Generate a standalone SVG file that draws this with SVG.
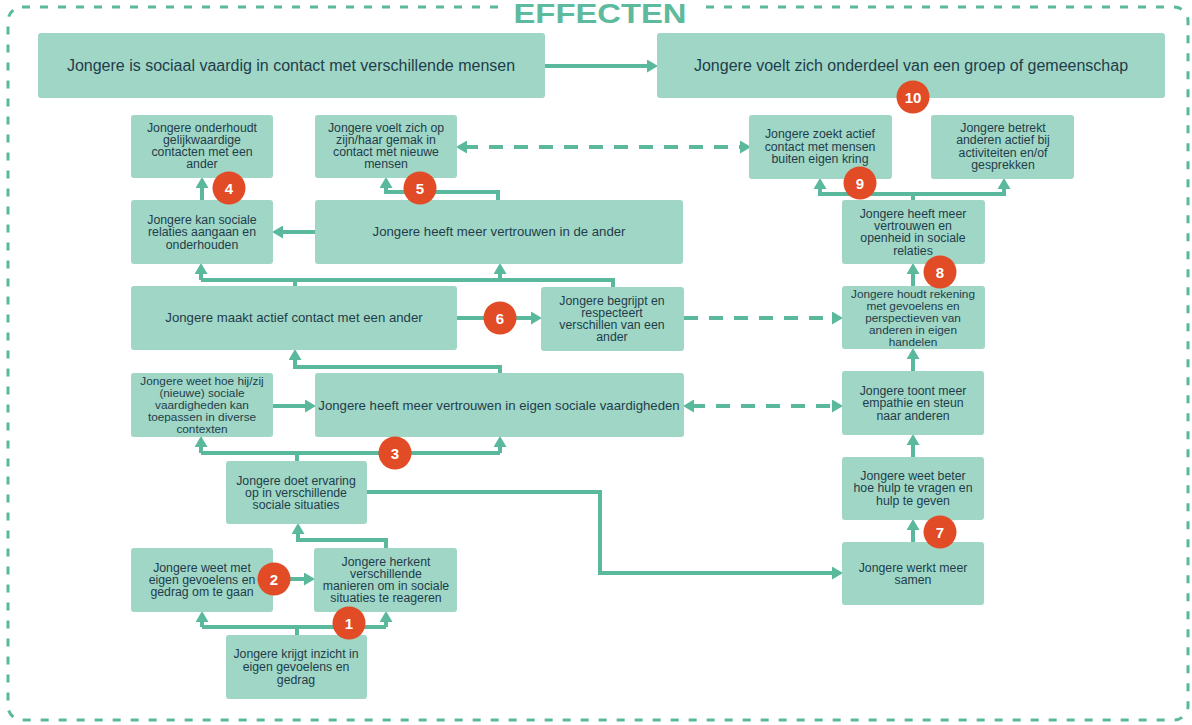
<svg xmlns="http://www.w3.org/2000/svg" width="1192" height="725" viewBox="0 0 1192 725">
<style>
.box{fill:#9fd6c6;}
.t{font-family:"Liberation Sans",Arial,sans-serif;fill:#1f3d4a;text-anchor:middle;}
.s{font-size:12.3px;}
.x{font-size:11.8px;}
.m{font-size:13.2px;}
.l{font-size:16px;}
.c{fill:none;stroke:#5ab89d;stroke-width:4;stroke-linejoin:miter;}
.d{stroke-dasharray:14 11;}
.a{marker-end:url(#ah);}
.b{marker-start:url(#ah);}
.bd circle{fill:#e14b26;}
.bd text{font-family:"Liberation Sans",Arial,sans-serif;font-weight:bold;font-size:15px;fill:#ffffff;text-anchor:middle;}
</style>
<defs>
<marker id="ah" viewBox="0 0 11 13" markerWidth="11" markerHeight="13" markerUnits="userSpaceOnUse" refX="3" refY="6.5" orient="auto-start-reverse"><path d="M0,0 L11,6.5 L0,13 z" fill="#5ab89d"/></marker>
</defs>
<rect width="1192" height="725" fill="#ffffff"/>
<rect x="8" y="7" width="1180" height="713" rx="14" fill="none" stroke="#5ab89d" stroke-width="3" stroke-dasharray="8 10"/>
<rect x="503" y="0" width="196" height="17" fill="#ffffff"/>
<text x="600" y="23" font-family="'Liberation Sans',Arial,sans-serif" font-weight="bold" font-size="28" fill="#5dba9c" text-anchor="middle" textLength="173" lengthAdjust="spacingAndGlyphs">EFFECTEN</text>

<g id="connectors">
<path class="c a" d="M545,66 H650"/>
<path class="c a" d="M315,232 H280"/>
<path class="c a" d="M202,200 V185"/>
<path class="c a" d="M498,200 V192 H386 V185"/>
<path class="c d a b" d="M464,147 H743"/>
<path class="c" d="M913,200 V194"/>
<path class="c a" d="M913,194 H820 V186"/>
<path class="c a" d="M913,194 H1004 V186"/>
<path class="c" d="M201,280 H613 V287"/>
<path class="c" d="M295,286 V280"/>
<path class="c a" d="M201,280 V271"/>
<path class="c a" d="M500,280 V271"/>
<path class="c a" d="M457,318 H534"/>
<path class="c d a" d="M684,318 H835"/>
<path class="c a" d="M913,286 V271"/>
<path class="c a" d="M500,373 V367 H295 V357"/>
<path class="c a" d="M273,406 H308"/>
<path class="c d a b" d="M691,406 H835"/>
<path class="c a" d="M913,371 V356"/>
<path class="c a" d="M913,457 V442"/>
<path class="c a" d="M913,542 V527"/>
<path class="c a" d="M367,492 H600 V573 H835"/>
<path class="c" d="M297,461 V453"/>
<path class="c" d="M201,453 H500"/>
<path class="c a" d="M201,453 V444"/>
<path class="c a" d="M500,453 V444"/>
<path class="c a" d="M386,548 V540 H298 V531"/>
<path class="c a" d="M273,579 H307"/>
<path class="c" d="M297,635 V627"/>
<path class="c" d="M202,627 H386"/>
<path class="c a" d="M202,627 V619"/>
<path class="c a" d="M386,627 V619"/>
</g>

<g id="n-sociaal-vaardig"><rect class="box" x="38" y="33" width="507" height="65" rx="3"/><text class="t l" x="291" y="71">Jongere is sociaal vaardig in contact met verschillende mensen</text></g>
<g id="n-onderdeel-groep"><rect class="box" x="657" y="33" width="508" height="65" rx="3"/><text class="t l" x="911" y="71">Jongere voelt zich onderdeel van een groep of gemeenschap</text></g>

<g id="n-gelijkwaardig"><rect class="box" x="131" y="115" width="142" height="63" rx="3"/><text class="t s"><tspan x="202" y="132">Jongere onderhoudt</tspan><tspan x="202" y="144">gelijkwaardige</tspan><tspan x="202" y="156">contacten met een</tspan><tspan x="202" y="168">ander</tspan></text></g>
<g id="n-gemak"><rect class="box" x="315" y="115" width="142" height="63" rx="3"/><text class="t s"><tspan x="386" y="132">Jongere voelt zich op</tspan><tspan x="386" y="144">zijn/haar gemak in</tspan><tspan x="386" y="156">contact met nieuwe</tspan><tspan x="386" y="168">mensen</tspan></text></g>
<g id="n-zoekt-contact"><rect class="box" x="749" y="115" width="143" height="64" rx="3"/><text class="t s"><tspan x="820" y="138">Jongere zoekt actief</tspan><tspan x="820" y="151">contact met mensen</tspan><tspan x="820" y="163">buiten eigen kring</tspan></text></g>
<g id="n-betrekt"><rect class="box" x="931" y="115" width="143" height="64" rx="3"/><text class="t s"><tspan x="1003" y="132">Jongere betrekt</tspan><tspan x="1003" y="144">anderen actief bij</tspan><tspan x="1003" y="157">activiteiten en/of</tspan><tspan x="1003" y="169">gesprekken</tspan></text></g>

<g id="n-relaties"><rect class="box" x="131" y="200" width="142" height="64" rx="3"/><text class="t s"><tspan x="202" y="224">Jongere kan sociale</tspan><tspan x="202" y="236">relaties aangaan en</tspan><tspan x="202" y="249">onderhouden</tspan></text></g>
<g id="n-vertrouwen-ander"><rect class="box" x="315" y="200" width="368" height="64" rx="3"/><text class="t m" x="499" y="236">Jongere heeft meer vertrouwen in de ander</text></g>
<g id="n-openheid"><rect class="box" x="842" y="200" width="143" height="64" rx="3"/><text class="t s"><tspan x="913" y="218">Jongere heeft meer</tspan><tspan x="913" y="230">vertrouwen en</tspan><tspan x="913" y="242">openheid in sociale</tspan><tspan x="913" y="255">relaties</tspan></text></g>

<g id="n-actief-contact"><rect class="box" x="131" y="286" width="326" height="64" rx="3"/><text class="t m" x="294" y="322">Jongere maakt actief contact met een ander</text></g>
<g id="n-begrijpt"><rect class="box" x="541" y="287" width="143" height="64" rx="3"/><text class="t s"><tspan x="612" y="305">Jongere begrijpt en</tspan><tspan x="612" y="317">respecteert</tspan><tspan x="612" y="329">verschillen van een</tspan><tspan x="612" y="341">ander</tspan></text></g>
<g id="n-rekening"><rect class="box" x="842" y="286" width="143" height="63" rx="3"/><text class="t x"><tspan x="913" y="297.5">Jongere houdt rekening</tspan><tspan x="913" y="309.5">met gevoelens en</tspan><tspan x="913" y="321.5">perspectieven van</tspan><tspan x="913" y="333.5">anderen in eigen</tspan><tspan x="913" y="345.5">handelen</tspan></text></g>

<g id="n-toepassen"><rect class="box" x="131" y="373" width="142" height="64" rx="3"/><text class="t x"><tspan x="202" y="385">Jongere weet hoe hij/zij</tspan><tspan x="202" y="397">(nieuwe) sociale</tspan><tspan x="202" y="409">vaardigheden kan</tspan><tspan x="202" y="421">toepassen in diverse</tspan><tspan x="202" y="433">contexten</tspan></text></g>
<g id="n-eigen-vaardigheden"><rect class="box" x="315" y="373" width="369" height="64" rx="3"/><text class="t m" x="499" y="410">Jongere heeft meer vertrouwen in eigen sociale vaardigheden</text></g>
<g id="n-empathie"><rect class="box" x="842" y="371" width="142" height="64" rx="3"/><text class="t s"><tspan x="913" y="395">Jongere toont meer</tspan><tspan x="913" y="407">empathie en steun</tspan><tspan x="913" y="420">naar anderen</tspan></text></g>

<g id="n-ervaring"><rect class="box" x="226" y="461" width="141" height="63" rx="3"/><text class="t s"><tspan x="296" y="485">Jongere doet ervaring</tspan><tspan x="296" y="497">op in verschillende</tspan><tspan x="296" y="509">sociale situaties</tspan></text></g>
<g id="n-hulp"><rect class="box" x="842" y="457" width="142" height="63" rx="3"/><text class="t s"><tspan x="913" y="480">Jongere weet beter</tspan><tspan x="913" y="492">hoe hulp te vragen en</tspan><tspan x="913" y="505">hulp te geven</tspan></text></g>
<g id="n-samen"><rect class="box" x="842" y="542" width="142" height="63" rx="3"/><text class="t s"><tspan x="913" y="572">Jongere werkt meer</tspan><tspan x="913" y="584">samen</tspan></text></g>

<g id="n-omgaan"><rect class="box" x="131" y="548" width="142" height="64" rx="3"/><text class="t s"><tspan x="202" y="572">Jongere weet met</tspan><tspan x="202" y="584">eigen gevoelens en</tspan><tspan x="202" y="596">gedrag om te gaan</tspan></text></g>
<g id="n-herkent"><rect class="box" x="314" y="548" width="143" height="64" rx="3"/><text class="t s"><tspan x="386" y="566">Jongere herkent</tspan><tspan x="386" y="578">verschillende</tspan><tspan x="386" y="590">manieren om in sociale</tspan><tspan x="386" y="602">situaties te reageren</tspan></text></g>
<g id="n-inzicht"><rect class="box" x="226" y="635" width="141" height="64" rx="3"/><text class="t s"><tspan x="296" y="658">Jongere krijgt inzicht in</tspan><tspan x="296" y="671">eigen gevoelens en</tspan><tspan x="296" y="684">gedrag</tspan></text></g>

<g id="badges" class="bd">
<circle cx="349" cy="623" r="16.5"/><text x="349" y="628.5">1</text>
<circle cx="274" cy="579" r="16.5"/><text x="274" y="584.5">2</text>
<circle cx="395" cy="453" r="16.5"/><text x="395" y="458.5">3</text>
<circle cx="229" cy="188" r="16.5"/><text x="229" y="193.5">4</text>
<circle cx="420" cy="188" r="16.5"/><text x="420" y="193.5">5</text>
<circle cx="500" cy="318" r="16.5"/><text x="500" y="323.5">6</text>
<circle cx="940" cy="532" r="16.5"/><text x="940" y="537.5">7</text>
<circle cx="940" cy="272" r="16.5"/><text x="940" y="277.5">8</text>
<circle cx="860" cy="183" r="16.5"/><text x="860" y="188.5">9</text>
<circle cx="913" cy="97" r="16.5"/><text x="913" y="102.5">10</text>
</g>
</svg>
